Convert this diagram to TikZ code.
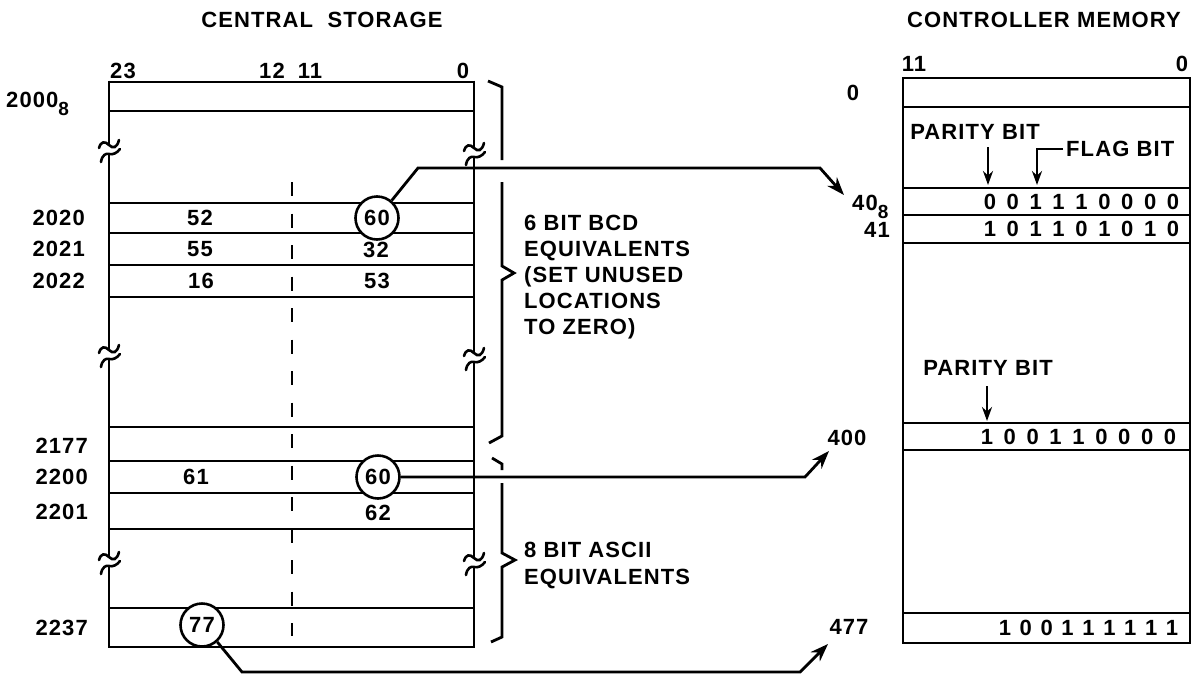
\documentclass[tikz,border=0pt]{standalone}
\usepackage{fontspec}
\setmainfont{Liberation Sans}[LetterSpace=5]
\usetikzlibrary{arrows.meta}
\def\bitw{22.9pt}
\def\bitsloop#1{\ifx#1\relax\else\makebox[\bitw][c]{#1}\expandafter\bitsloop\fi}
\newcommand\bitsq[2]{\def\bitw{#1}\bitsloop#2\relax}
\newcommand\subeight{\raisebox{-8pt}{\fontsize{19}{19}\selectfont 8}}
\begin{document}
\begin{tikzpicture}[x=1pt,y=-1pt,
  ln/.style={line width=2.8pt, line cap=rect, line join=miter},
  lbl/.style={inner sep=0pt, text height=15.7pt, text depth=0pt, font=\bfseries\fontsize{22}{26}\selectfont},
  blk/.style={inner sep=0pt, align=left, font=\bfseries\fontsize{22}{26}\selectfont},
  circ/.style={circle, draw, line width=2.6pt, fill=white, minimum size=43pt, inner sep=0pt, text height=15.7pt, text depth=0pt, font=\bfseries\fontsize{22}{26}\selectfont},
  arr/.style={line width=2.8pt, -{Stealth[length=18pt,width=13pt]}},
  sarr/.style={line width=2.8pt, -{Stealth[length=14pt,width=10pt]}},
  brk/.pic={
    \draw[line width=2.6pt, line cap=round] (-10,-2) .. controls (-8,-9) and (-4,-9) .. (0,-5) .. controls (4,-1) and (8,-2) .. (10,-10);
    \draw[line width=2.6pt, line cap=round] (-8,12) .. controls (-7,5) and (-3,3) .. (0,4) .. controls (4,5) and (8,3) .. (11,-1);
  }
]
\useasboundingbox (0,0) rectangle (1196,675);

% titles
\node[lbl] (t1) at (322,20) {CENTRAL\ \ STORAGE};
\node[lbl] (t2) at (1044,20) {CONTROLLER MEMORY};

% ===== central storage =====
\node[lbl] (c23) at (123,71) {23};
\node[lbl] (c12) at (272,71) {12};
\node[lbl] (c11) at (310,71) {11};
\node[lbl] (c0) at (463,71) {0};

\foreach \y in {82,111,203,233,265,297,427,461,493,529,608,647}
  \draw[ln] (109,\y) -- (474,\y);
% left edge with breaks
\draw[ln,line cap=butt] (109,80.6) -- (109,145);
\draw[ln,line cap=butt] (109,154) -- (109,350);
\draw[ln,line cap=butt] (109,359) -- (109,557);
\draw[ln,line cap=butt] (109,566) -- (109,648.4);
\pic at (109,150) {brk};
\pic at (109,355) {brk};
\pic at (109,562) {brk};
% right edge with breaks
\draw[ln,line cap=butt] (474,80.6) -- (474,148);
\draw[ln,line cap=butt] (474,157) -- (474,353);
\draw[ln,line cap=butt] (474,362) -- (474,558);
\draw[ln,line cap=butt] (474,567) -- (474,648.4);
\pic at (474,153) {brk};
\pic at (474,358) {brk};
\pic at (474,563) {brk};
% dashed divider
\draw[line width=2.6pt, dash pattern=on 14pt off 17.5pt] (292,182) -- (292,636);

% row labels
\node[lbl, anchor=west] (a2000) at (6,99.5) {2000\subeight};
\node[lbl, anchor=east] (a2020) at (85,218) {2020};
\node[lbl, anchor=east] (a2021) at (85,249) {2021};
\node[lbl, anchor=east] (a2022) at (85,281) {2022};
\node[lbl, anchor=east] (a2177) at (88,446) {2177};
\node[lbl, anchor=east] (a2200) at (88,477) {2200};
\node[lbl, anchor=east] (a2201) at (88,512) {2201};
\node[lbl, anchor=east] (a2237) at (88,628) {2237};

% values
\node[lbl] (v52) at (200,218) {52};
\node[lbl] (v55) at (200,249) {55};
\node[lbl] (v16) at (201,281) {16};
\node[lbl] (v32) at (376,250) {32};
\node[lbl] (v53) at (377,281) {53};
\node[lbl] (v61) at (196,477) {61};
\node[lbl] (v62) at (378,513) {62};
\node[circ] (c60a) at (377,218) {60};
\node[circ] (c60b) at (378,477) {60};
\node[circ] (c77) at (202,625) {77};

% braces
\draw[ln,line cap=butt] (488,81) -- (502,87) -- (502,160);
\draw[ln,line cap=butt] (502,182) -- (502,266) -- (514,273) -- (502,280) -- (502,436) -- (489,443);
\draw[ln,line cap=butt] (492,458) -- (502,464) -- (502,470);
\draw[ln,line cap=butt] (502,483) -- (502,553) -- (515,560) -- (502,567) -- (502,637) -- (491,642);
\node[blk, anchor=north west] (bcd) at (524,215) {6 BIT BCD\\EQUIVALENTS\\(SET UNUSED\\LOCATIONS\\TO ZERO)};
\node[blk, anchor=north west, font=\bfseries\fontsize{22}{27}\selectfont] (asc) at (524,542) {8 BIT ASCII\\EQUIVALENTS};

% ===== controller memory =====
\node[lbl] (m11) at (914,64) {11};
\node[lbl] (m0) at (1182,64) {0};
\draw[ln] (903,78) rectangle (1190,643);
\foreach \y in {107,188,215,243,423,450,613}
  \draw[ln] (903,\y) -- (1190,\y);

\node[lbl] (r0) at (853,93) {0};
\node[lbl, anchor=west] (r40) at (852,203) {40\subeight};
\node[lbl] (r41) at (877,230) {41};
\node[lbl] (r400) at (847,438) {400};
\node[lbl] (r477) at (849,627) {477};

\node[lbl] (b40) at (1081.5,201.5) {\bitsq{22.9pt}{001110000}};
\node[lbl] (b41) at (1081.5,229) {\bitsq{22.9pt}{101101010}};
\node[lbl] (b400) at (1078.5,436.5) {\bitsq{22.9pt}{100110000}};
\node[lbl] (b477) at (1088.5,628) {\bitsq{20.9pt}{100111111}};

\node[lbl] (pb1) at (975,132) {PARITY BIT};
\node[lbl, anchor=west] (fb) at (1066,149) {FLAG BIT};
\node[lbl] (pb2) at (988,368) {PARITY BIT};
\coordinate (p1s) at (988,147);
\coordinate (p1e) at (988,185);
\coordinate (f1c) at (1037,149);
\coordinate (f1e) at (1037,185);
\coordinate (p2s) at (987,386);
\coordinate (p2e) at (987,421);
\draw[sarr] (p1s) -- (p1e);
\draw[sarr] ([xshift=-3pt]fb.west) -- (f1c) -- (f1e);
\draw[sarr] (p2s) -- (p2e);

% ===== connectors =====
\coordinate (a1b) at (418,168);
\coordinate (a1c) at (820,168);
\coordinate (a1t) at (844,195);
\draw[arr] (c60a.50) -- (a1b) -- (a1c) -- (a1t);
\coordinate (a2c) at (805,477);
\coordinate (a2t) at (829,451);
\draw[arr] (c60b.east) -- (a2c) -- (a2t);
\coordinate (a3b) at (242,672);
\coordinate (a3c) at (800,672);
\coordinate (a3t) at (828,644);
\draw[arr] (c77.-48) -- (a3b) -- (a3c) -- (a3t);
\end{tikzpicture}
\end{document}
